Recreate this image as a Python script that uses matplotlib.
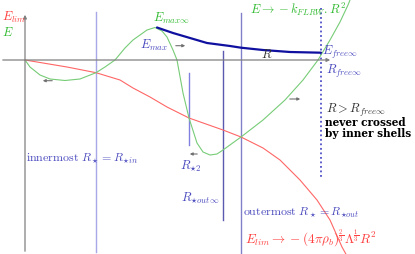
import matplotlib.pyplot as plt

plt.rcParams["mathtext.fontset"] = "cm"
plt.rcParams["font.family"] = "serif"
plt.rcParams["font.serif"] = ["cmr10", "DejaVu Serif"]

# curves: R (right of the E axis), E (up from the R axis)
lim_R = [0, 42, 71, 95, 108, 125, 142, 164, 198, 216, 238, 255, 275, 292, 305, 317, 322]
lim_E = [0, -7, -12.7, -20, -28, -37, -47, -58, -70, -77, -88, -100, -120, -140, -160, -187, -196]

e_R = [0, 5, 15, 25, 40, 55, 71, 80, 90, 100, 108, 122, 130, 137, 142, 148, 152,
       158, 164, 172, 178, 185, 192, 198, 216, 238, 260, 278, 293, 305, 315, 323, 325]
e_E = [0, -7, -15, -19, -20.5, -19, -12.7, -7, 0, 12, 20, 30, 32.5, 29, 23, 10, 0,
       -33, -58, -83, -92, -95, -94, -90, -77, -60, -40, -20, 0, 20, 38, 55, 60]

emax_R = [132, 148, 165, 182, 205, 216, 238, 265, 296]
emax_E = [32.5, 27, 22, 17, 14, 12.3, 10, 8, 7.3]

# vertical markers
R_in, R_2, R_outinf, R_out, R_free = 71, 164, 198, 216, 296

fig = plt.figure(figsize=(4.15, 2.54), dpi=100)
ax = fig.add_axes([0, 0, 1, 1])
ax.set_xlim(-25, 390)
ax.set_ylim(-194, 60)
ax.axis("off")

gray = "#808080"
red = "#ff6666"
green = "#77cc77"
blue_txt = "#4a4abf"

# axes with arrows
ax.annotate("", xy=(308, 0), xytext=(-25, 0),
            arrowprops=dict(arrowstyle="-|>", color=gray, lw=0.9, mutation_scale=5))
ax.annotate("", xy=(0, 48), xytext=(0, -194),
            arrowprops=dict(arrowstyle="-|>", color=gray, lw=0.9, mutation_scale=5))

# vertical lines
ax.plot([R_in, R_in], [48, -192], color="#a8a8e8", lw=1.0)
ax.plot([R_2, R_2], [-13, -85], color="#8080e0", lw=1.0)
ax.plot([R_outinf, R_outinf], [9, -160], color="#5a5ab0", lw=1.0)
ax.plot([R_out, R_out], [47, -194], color="#8080c8", lw=1.0)
ax.plot([R_free, R_free], [52, -118], color="#5050c8", lw=1.3, ls=(0, (1, 1.5)))

# curves
ax.plot(lim_R, lim_E, color=red, lw=0.8)
ax.plot(e_R, e_E, color=green, lw=0.8)
ax.plot(emax_R, emax_E, color="#1010a0", lw=1.6, solid_capstyle="round")

# small direction arrows
for x0, x1, y in [(30, 15, -20.7), (148, 163, 14.3), (175, 162, -94), (262, 278, -39)]:
    ax.annotate("", xy=(x1, y), xytext=(x0, y),
                arrowprops=dict(arrowstyle="-|>", color="#707070", lw=0.8, mutation_scale=4))

fs = 9
ax.text(-23, 43, r"$E_{lim}$", color="#ff4040", fontsize=fs, va="center")
ax.text(-23, 27, r"$E$", color="#33bb33", fontsize=fs, va="center")
ax.text(128, 42, r"$E_{max\infty}$", color="#33bb33", fontsize=fs, va="center")
ax.text(115, 15, r"$E_{max}$", color=blue_txt, fontsize=fs, va="center")
ax.text(225, 59.5, r"$E \rightarrow -k_{FLRW}.R^2$", color="#33bb33", fontsize=fs, va="top")
ax.text(236, 6, r"$R$", color="#333333", fontsize=fs, va="center")
ax.text(297, 8, r"$E_{free\infty}$", color=blue_txt, fontsize=fs, va="center")
ax.text(301, -11, r"$R_{free\infty}$", color=blue_txt, fontsize=fs, va="center")
ax.text(301, -50, r"$R > R_{free\infty}$", color="#333333", fontsize=fs, va="center")
ax.text(300, -68, "never crossed\nby inner shells", color="black", fontsize=7.6,
        family="DejaVu Serif", fontweight="bold", va="center", linespacing=0.95)
ax.text(1, -98, r"$\mathrm{innermost}\ R_\star = R_{\star in}$", color=blue_txt, fontsize=8.6, va="center")
ax.text(155, -106, r"$R_{\star 2}$", color=blue_txt, fontsize=fs, va="center")
ax.text(156, -138, r"$R_{\star out\infty}$", color=blue_txt, fontsize=fs, va="center")
ax.text(218, -152, r"$\mathrm{outermost}\ R_\star = R_{\star out}$", color=blue_txt, fontsize=8.6, va="center")
ax.text(220, -178, r"$E_{lim} \rightarrow -(4\pi\rho_b)^{\frac{2}{3}}\Lambda^{\frac{1}{3}}R^2$",
        color="#ff4040", fontsize=9.5, va="center")

plt.savefig("out.png", dpi=100)
